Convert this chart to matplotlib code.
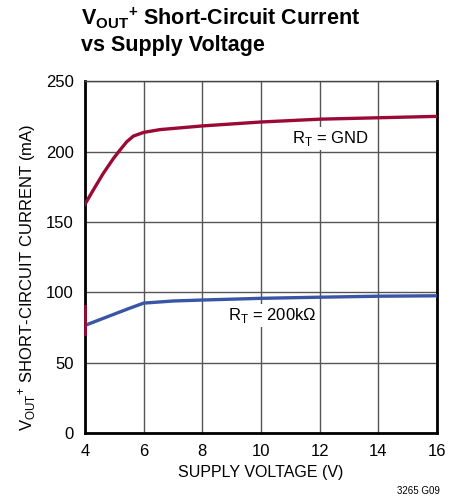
import matplotlib.pyplot as plt

# supply voltage (V) and short-circuit current (mA)
volts_gnd = [4.0, 4.28, 4.62, 4.97, 5.19, 5.42, 5.65, 6.0, 6.56, 8.0, 10.0, 12.0, 14.0, 16.0]
amps_gnd = [162.6, 172.6, 184.4, 195.1, 201, 206.9, 211, 213.6, 215.6, 218.2, 221, 223, 224, 225]

volts_200k = [4.0, 4.5, 5.0, 5.5, 6.0, 7.0, 8.0, 10.0, 12.0, 14.0, 16.0]
amps_200k = [76.5, 80.5, 84.5, 88.5, 92.3, 93.8, 94.5, 95.7, 96.5, 97.2, 97.5]

# small red stub on the y axis near 4V
stub_v = [4.0, 4.0]
stub_i = [70, 90]

xticks = [4, 6, 8, 10, 12, 14, 16]
yticks = [0, 50, 100, 150, 200, 250]

red = "#9b0a35"
blue = "#3a55a6"
plt.rcParams["font.family"] = ["Liberation Sans", "DejaVu Sans"]

fig = plt.figure(figsize=(4.61, 4.98), dpi=100)
ax = fig.add_axes([0.1844, 0.1305, 0.7636, 0.7065])

ax.plot(volts_gnd, amps_gnd, color=red, lw=2.4, solid_joinstyle="round", zorder=3)
ax.plot(volts_200k, amps_200k, color=blue, lw=2.4, solid_joinstyle="round", zorder=3)
ax.plot(stub_v, stub_i, color=red, lw=2.0, zorder=4, clip_on=False)

ax.set_xlim(4, 16)
ax.set_ylim(0, 250)
ax.set_xticks(xticks)
ax.set_yticks(yticks)
ax.grid(True, color="#555555", lw=1.0)
ax.set_axisbelow(True)
ax.tick_params(length=0, labelsize=12, pad=8)

for side in ["left", "bottom", "right"]:
    ax.spines[side].set_linewidth(2.0)
    ax.spines[side].set_color("black")
ax.spines["top"].set_linewidth(1.0)
ax.spines["top"].set_color("#444444")

ax.set_xlabel("SUPPLY VOLTAGE (V)", fontsize=11.5, labelpad=4)
ax.set_ylabel("V$_{\\mathregular{OUT}}$$^{\\mathregular{+}}$ SHORT-CIRCUIT CURRENT (mA)",
              fontsize=12, va="center")
ax.yaxis.set_label_coords(-0.165, 0.443)

ax.text(11.05, 209.5, "R$_{\\mathregular{T}}$ = GND", fontsize=12, va="center", ha="left",
        bbox=dict(facecolor="white", edgecolor="none", pad=1.5), zorder=5)
ax.text(8.88, 83.8, "R$_{\\mathregular{T}}$ = 200kΩ", fontsize=12, va="center", ha="left",
        bbox=dict(facecolor="white", edgecolor="none", pad=1.5), zorder=5)

fig.text(0.175, 0.937, "V$_{\\mathregular{OUT}}$$^{\\mathregular{+}}$ Short-Circuit Current",
         fontsize=15.5, fontweight="bold", va="bottom", ha="left")
fig.text(0.175, 0.888, "vs Supply Voltage", fontsize=15.5, fontweight="bold",
         va="bottom", ha="left")
fig.text(0.955, 0.005, "3265 G09", fontsize=7, ha="right", va="bottom")

fig.savefig("out.png", dpi=100)
